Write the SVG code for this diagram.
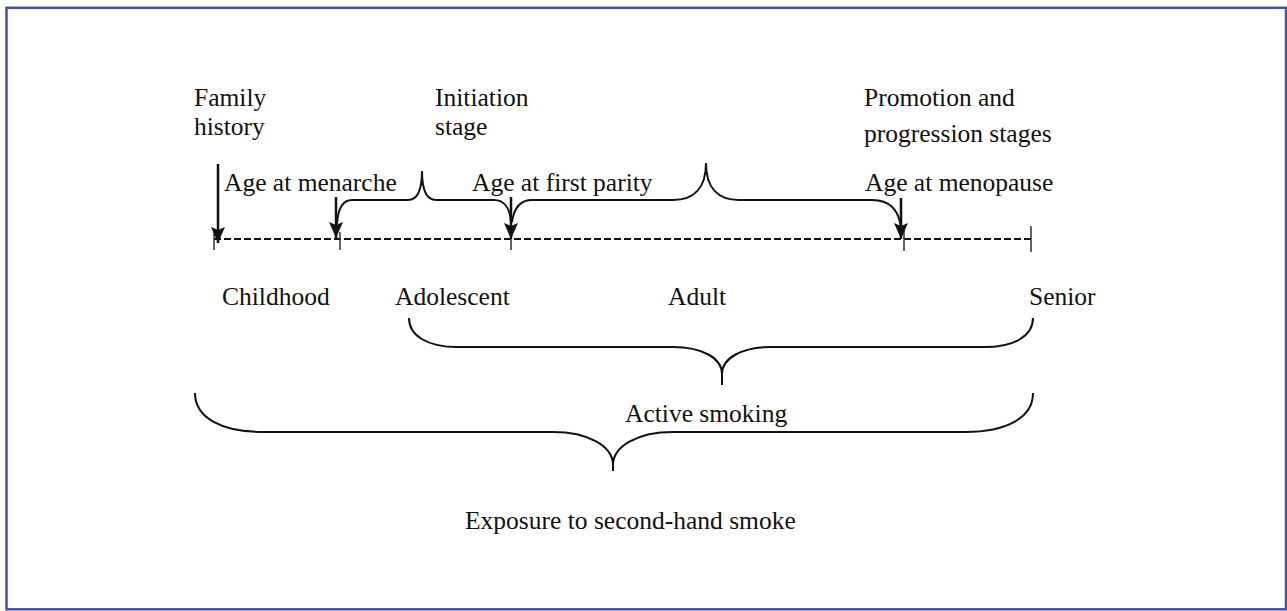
<svg xmlns="http://www.w3.org/2000/svg" width="1287" height="611" viewBox="0 0 1287 611">
<style>
text{font-family:"Liberation Serif","Times New Roman",serif;font-size:25.5px;fill:#111}
.br{fill:none;stroke:#111;stroke-width:2}
.arr{stroke:#111;stroke-width:2.5;fill:none}
.tick{stroke:#333;stroke-width:1.5}
.dash{stroke:#111;stroke-width:2;stroke-dasharray:7,3;fill:none}
</style>
<defs>
<marker id="ah" markerUnits="userSpaceOnUse" markerWidth="17" markerHeight="15" refX="16" refY="7" orient="auto" overflow="visible">
<path d="M0,0 L16,7 L0,14 L3,7 z" fill="#111"/>
</marker>
</defs>
<rect x="6.5" y="7.8" width="1279.5" height="601.5" fill="#fff" stroke="#4a50a0" stroke-width="2.5"/>

<g id="timeline">
<line class="dash" x1="214" y1="239" x2="1031" y2="239"/>
<line class="tick" x1="214" y1="232" x2="214" y2="250"/>
<line class="tick" x1="340" y1="232" x2="340" y2="250"/>
<line class="tick" x1="511" y1="232" x2="511" y2="250"/>
<line class="tick" x1="904" y1="230" x2="904" y2="251"/>
<line class="tick" x1="1031" y1="226" x2="1031" y2="252"/>
</g>

<g id="labels-top">
<text x="194" y="106">Family</text>
<text x="194" y="135">history</text>
<text x="435" y="106">Initiation</text>
<text x="435" y="135">stage</text>
<text x="864" y="106">Promotion and</text>
<text x="864" y="142">progression stages</text>
</g>

<g id="events">
<text x="224" y="191">Age at menarche</text>
<text x="472" y="191">Age at first parity</text>
<text x="865" y="191">Age at menopause</text>
</g>

<g id="stages">
<text x="222" y="305">Childhood</text>
<text x="395" y="305">Adolescent</text>
<text x="668" y="305">Adult</text>
<text x="1029" y="305">Senior</text>
</g>

<g id="connectors">
<line class="arr" x1="218" y1="164" x2="218" y2="243" marker-end="url(#ah)"/>
<line class="arr" x1="336" y1="197" x2="336" y2="238" marker-end="url(#ah)"/>
<line class="arr" x1="511" y1="197" x2="511" y2="239" marker-end="url(#ah)"/>
<line class="arr" x1="901" y1="198" x2="901" y2="239" marker-end="url(#ah)"/>
</g>

<g id="brace-initiation">
<path class="br" d="M337,224 C338,208 343,200 352,200 L408,200 C418,200 422,190 422,171 C422,190 426,200 436,200 L494,200 C504,200 510,208 511,222"/>
</g>

<g id="brace-promotion">
<path class="br" d="M512,222 C514,208 520,200 532,200 L673,200 C694,200 706,188 706,163 C706,188 718,200 739,200 L872,200 C890,200 899,210 901,228"/>
</g>

<g id="brace-active">
<path class="br" d="M409,318 C409,336 428,347 457,347 L673,347 C702,347 722,358 722,374 L722,385 M722,374 C722,358 742,347 771,347 L985,347 C1014,347 1033,336 1033,318"/>
<text x="625" y="422">Active smoking</text>
</g>

<g id="brace-exposure">
<path class="br" d="M195,393 C195,418 222,432 263,432 L553,432 C588,432 613,446 613,465 L613,471 M613,465 C613,446 638,432 673,432 L965,432 C1006,432 1033,418 1033,393"/>
<text x="465" y="529">Exposure to second-hand smoke</text>
</g>
</svg>
